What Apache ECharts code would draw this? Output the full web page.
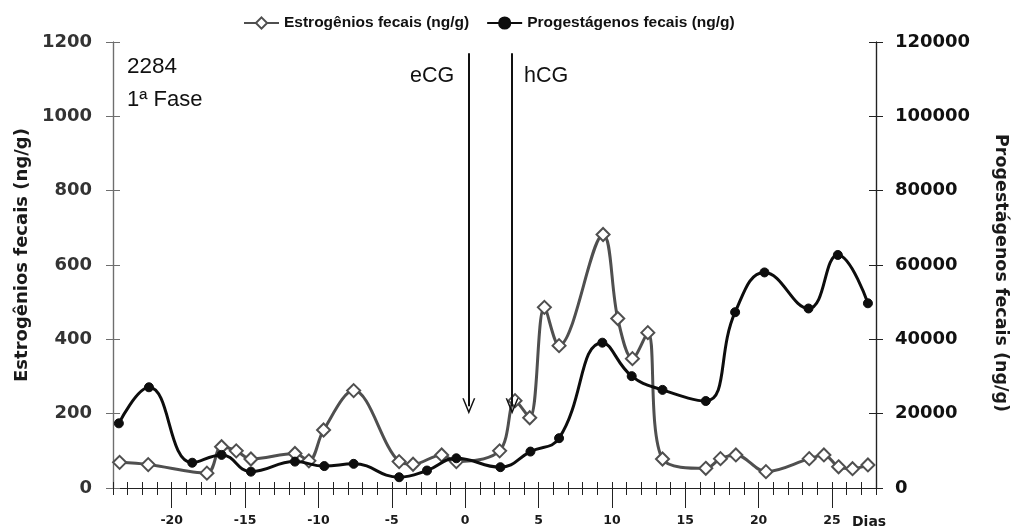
<!DOCTYPE html>
<html>
<head>
<meta charset="utf-8">
<script src="https://cdn.jsdelivr.net/npm/echarts@6/dist/echarts.min.js"></script>
<style>
  html, body { margin: 0; padding: 0; background: #fff; }
  #chart { width: 1018px; height: 529px; }
</style>
</head>
<body>
<div id="chart"></div>
<script>
// Dias relativos ao tratamento
const estrogenDays = [-23.55, -21.6, -17.6, -16.6, -15.6, -14.6, -11.6, -10.65, -9.65, -7.6,
  -4.5, -3.55, -1.6, -0.6, 2.35, 3.4, 4.4, 5.4, 6.4, 9.4, 10.4, 11.4, 12.45, 13.45,
  16.4, 17.4, 18.45, 20.5, 23.45, 24.45, 25.45, 26.4, 27.45];
// Estrogênios fecais (ng/g)
const estrogenValues = [69, 63, 40, 111, 100, 78, 93, 73, 156, 262,
  71, 64, 89, 71, 100, 235, 189, 486, 383, 682, 456, 348, 418, 78,
  53, 79, 89, 44, 79, 89, 57, 52, 62];

const progestDays = [-23.6, -21.55, -18.6, -16.6, -14.6, -11.6, -9.6, -7.6, -4.5, -2.6,
  -0.6, 2.4, 4.45, 6.4, 9.35, 11.35, 13.45, 16.4, 18.4, 20.4, 23.4, 25.4, 27.45];
// Progestágenos fecais (ng/g)
const progestValues = [17400, 27100, 6800, 8900, 4400, 7100, 5900, 6500, 2900, 4700,
  8000, 5600, 9800, 13400, 39100, 30100, 26400, 23400, 47300, 58000, 48300, 62700, 49700];

// Eixos
const dayMin = -24, dayMax = 28;
const dayLabels = [-20, -15, -10, -5, 0, 5, 10, 15, 20, 25];
const estrogenMax = 1200, estrogenStep = 200;
const progestMax = 120000, progestStep = 20000;

// Aplicação dos hormônios (dia) e extensão das setas (ng/g, eixo esquerdo)
const treatments = [
  { name: 'eCG', day: 0.25 },
  { name: 'hCG', day: 3.2 }
];
const arrowTop = 1170, arrowTip = 220;

const FONT = 'Liberation Sans, Arial, sans-serif';
const WIDE = 'DejaVu Sans, Verdana, sans-serif';

function zip(xs, ys) { return xs.map((x, i) => [x, ys[i]]); }
const plain = v => String(v);

const chevron = 'path://M6,0 L12,13 L10.6,13 L6,3.2 L1.4,13 L0,13 Z';

const baseX = {
  type: 'value', min: dayMin, max: dayMax, position: 'bottom',
  splitLine: { show: false },
  axisLine: { show: true, onZero: false, lineStyle: { color: '#222', width: 1.2 } }
};

function yAxisBase(pos, max, step, color) {
  return {
    type: 'value', position: pos, min: 0, max: max, interval: step,
    splitLine: { show: false },
    axisLine: { show: true, onZero: false, lineStyle: { color: color, width: 1.2 } }
  };
}

function label(text, x, y, size) {
  return {
    type: 'text', x: x, y: y, silent: true,
    style: { text: text, font: size + 'px ' + FONT, fill: '#111', align: 'left', verticalAlign: 'middle' }
  };
}

const option = {
  animation: false,
  backgroundColor: '#ffffff',
  textStyle: { fontFamily: FONT },
  legend: {
    top: 10, left: 238,
    itemWidth: 35, itemHeight: 14, itemGap: 17,
    textStyle: { fontFamily: FONT, fontWeight: 'bold', fontSize: 15.5, color: '#111' },
    data: ['Estrogênios fecais (ng/g)', 'Progestágenos fecais (ng/g)']
  },
  grid: { left: 113, right: 140, top: 42, bottom: 41, containLabel: false },
  xAxis: [
    Object.assign({}, baseX, {
      interval: 1,
      axisTick: { show: true, inside: true, length: 6, lineStyle: { color: '#222' } },
      axisLabel: { show: false }
    }),
    Object.assign({}, baseX, {
      interval: 1,
      axisTick: { show: true, inside: false, length: 7, lineStyle: { color: '#222' } },
      axisLabel: { show: false }
    }),
    Object.assign({}, baseX, {
      axisTick: { show: true, inside: false, length: 20, customValues: dayLabels, lineStyle: { color: '#222' } },
      axisLabel: {
        show: true, customValues: dayLabels, margin: 26,
        fontFamily: WIDE, fontWeight: 'bold', fontSize: 12.5, color: '#1a1a1a'
      },
      name: 'Dias', nameLocation: 'end', nameGap: -24,
      nameTextStyle: { fontFamily: WIDE, fontWeight: 'bold', fontSize: 14, color: '#1a1a1a',
        verticalAlign: 'top', padding: [27, 0, 0, 0] }
    })
  ],
  yAxis: [
    Object.assign(yAxisBase('left', estrogenMax, estrogenStep, '#6e6e6e'), {
      axisTick: { show: true, inside: false, length: 7, lineStyle: { color: '#6e6e6e' } },
      axisLabel: { margin: 21, formatter: plain, fontFamily: WIDE, fontWeight: 'bold', fontSize: 18, color: '#333' },
      name: 'Estrogênios fecais (ng/g)', nameLocation: 'middle', nameGap: 81, nameRotate: 90,
      nameTextStyle: { fontFamily: WIDE, fontWeight: 'bold', fontSize: 18, color: '#1a1a1a', padding: [0, 0, 0, 20] }
    }),
    Object.assign(yAxisBase('right', progestMax, progestStep, '#222'), {
      axisTick: { show: true, inside: false, length: 7, lineStyle: { color: '#222' } },
      axisLabel: { margin: 19, formatter: plain, fontFamily: WIDE, fontWeight: 'bold', fontSize: 18, color: '#111' },
      name: 'Progestágenos fecais (ng/g)', nameLocation: 'middle', nameGap: 116, nameRotate: -90,
      nameTextStyle: { fontFamily: WIDE, fontWeight: 'bold', fontSize: 17.5, color: '#1a1a1a', padding: [0, 0, 0, 16] }
    }),
    Object.assign(yAxisBase('left', estrogenMax, estrogenStep, '#6e6e6e'), {
      axisTick: { show: true, inside: true, length: 7, lineStyle: { color: '#6e6e6e' } },
      axisLabel: { show: false }
    }),
    Object.assign(yAxisBase('right', progestMax, progestStep, '#222'), {
      axisTick: { show: true, inside: true, length: 7, lineStyle: { color: '#222' } },
      axisLabel: { show: false }
    })
  ],
  series: [
    {
      name: 'Estrogênios fecais (ng/g)', type: 'line', xAxisIndex: 0, yAxisIndex: 0,
      data: zip(estrogenDays, estrogenValues),
      smooth: 0.35, symbol: 'diamond', symbolSize: 13, z: 3,
      lineStyle: { color: '#4f4f4f', width: 3 },
      itemStyle: { color: '#ffffff', borderColor: '#4f4f4f', borderWidth: 2 },
      markLine: {
        silent: true, animation: false,
        symbol: ['none', chevron], symbolSize: [13, 16],
        lineStyle: { color: '#111', width: 2, type: 'solid' },
        label: { show: false },
        data: treatments.map(t => [
          { coord: [t.day, arrowTop] },
          { coord: [t.day, arrowTip] }
        ])
      }
    },
    {
      name: 'Progestágenos fecais (ng/g)', type: 'line', xAxisIndex: 0, yAxisIndex: 1,
      data: zip(progestDays, progestValues),
      smooth: 0.45, symbol: 'circle', symbolSize: 9, z: 4,
      lineStyle: { color: '#0d0d0d', width: 3 },
      itemStyle: { color: '#0d0d0d', borderColor: '#0d0d0d', borderWidth: 1 }
    }
  ],
  graphic: [
    label('2284', 127, 67, 22.5),
    label('1ª Fase', 127, 99.5, 22),
    label(treatments[0].name, 410, 76.5, 21.5),
    label(treatments[1].name, 524, 76.5, 21.5)
  ]
};

const chart = echarts.init(document.getElementById('chart'), null, { renderer: 'canvas' });
chart.setOption(option);
</script>
</body>
</html>
